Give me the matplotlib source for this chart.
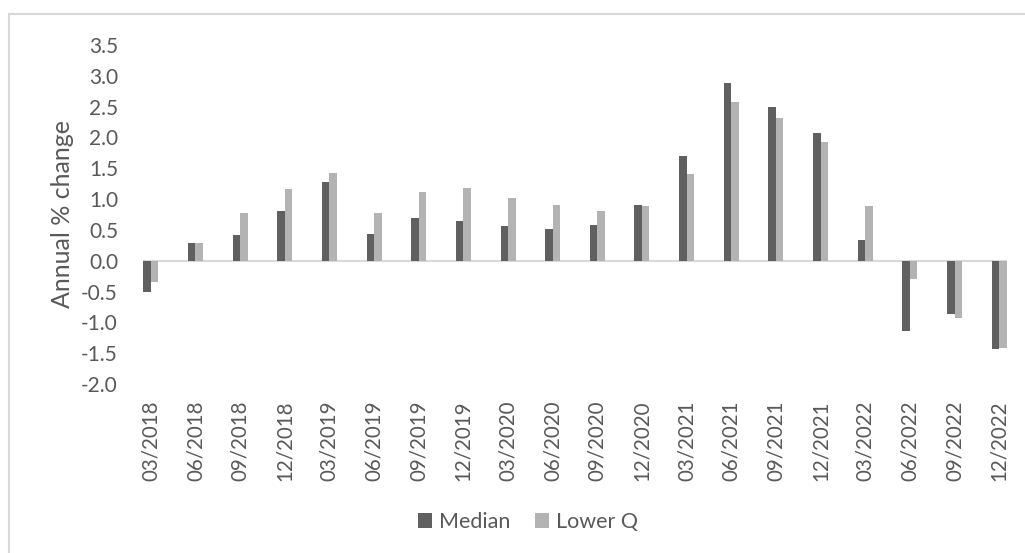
import numpy as np
import matplotlib.pyplot as plt
from matplotlib.patches import Rectangle

quarters = ['03/2018', '06/2018', '09/2018', '12/2018', '03/2019', '06/2019',
            '09/2019', '12/2019', '03/2020', '06/2020', '09/2020', '12/2020',
            '03/2021', '06/2021', '09/2021', '12/2021', '03/2022', '06/2022',
            '09/2022', '12/2022']
median = [-0.50, 0.28, 0.42, 0.80, 1.27, 0.43, 0.70, 0.64, 0.57, 0.52,
          0.58, 0.90, 1.70, 2.88, 2.49, 2.08, 0.33, -1.14, -0.86, -1.44]
lower_q = [-0.35, 0.28, 0.78, 1.16, 1.43, 0.77, 1.11, 1.18, 1.02, 0.91,
           0.81, 0.89, 1.41, 2.58, 2.32, 1.93, 0.89, -0.30, -0.93, -1.42]

text_col = '#595959'
plt.rcParams['font.family'] = ['Lato', 'DejaVu Sans']

W, H = 1025, 553
fig = plt.figure(figsize=(W / 100, H / 100), dpi=100)
ax = fig.add_axes([143 / W, 1 - 384 / H, (1007 - 143) / W, (384 - 45) / H])

# chart border (only left and top show inside the image)
fig.patches.append(Rectangle((8.5 / W, -0.1), 1.2, 1 - 14.5 / H + 0.1,
                             transform=fig.transFigure, fill=False,
                             edgecolor='#d9d9d9', linewidth=1.5))

x = np.arange(len(quarters))
w = 0.168
ax.bar(x - w / 2, median, w, color='#606060', label='Median', zorder=3)
ax.bar(x + w / 2, lower_q, w, color='#b3b3b3', label='Lower Q', zorder=3)

ax.axhline(0, color='#d9d9d9', linewidth=1.5, zorder=2)
ax.set_xlim(-w - 0.005, len(quarters) - 1 + w + 0.005)
ax.set_ylim(-2.0, 3.5)
ax.set_yticks(np.arange(-2.0, 3.51, 0.5))
ax.set_yticklabels([f'{v:.1f}' for v in np.arange(-2.0, 3.51, 0.5)])
ax.set_xticks(x)
ax.set_xticklabels(quarters, rotation=90)

for s in ax.spines.values():
    s.set_visible(False)
ax.tick_params(axis='y', length=0, pad=18, labelsize=15, labelcolor=text_col)
ax.tick_params(axis='x', length=0, pad=12, labelsize=14.8, labelcolor=text_col)
ax.set_ylabel('Annual % change', fontsize=18, color=text_col)
ax.yaxis.set_label_coords((74 - 143) / 864, 0.5)

ax.legend(loc='center', bbox_to_anchor=(528 / W, 1 - 522 / H),
          bbox_transform=fig.transFigure, ncol=2, frameon=False,
          fontsize=15.5, labelcolor=text_col, handlelength=0.65,
          handleheight=0.65, handletextpad=0.35, columnspacing=1.1)

fig.savefig('out.png', dpi=100)
